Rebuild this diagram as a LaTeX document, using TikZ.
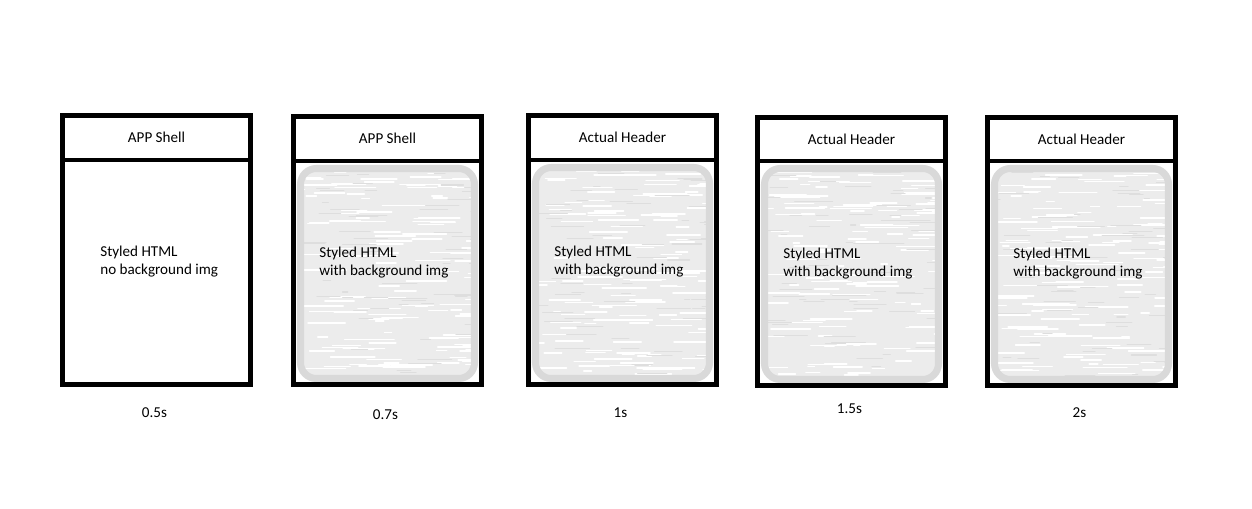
\documentclass[tikz,border=0pt]{standalone}
\usepackage{fontspec}
\setmainfont{Carlito}

\begin{document}
\begin{tikzpicture}[x=0.02cm,y=-0.02cm,
  frame/.style={line width=2.8pt},
  panel/.style={draw=gray!30,line width=4pt,rounded corners=9pt},
  caption/.style={font=\fontsize{8.6}{10.2}\selectfont,inner sep=0pt},
  streak/.style={line width=0.9pt,line cap=round}]
  \useasboundingbox (0,0) rectangle (1252,509);
  % one frame per loading stage
  \foreach \i/\xl/\yt/\hd/\bt/\tx/\ty/\hdr/\body/\tm/\my in {
      1/62.5/115.5/160/384.5/37.5/262/{APP Shell}/{no background img}/0.5s/413,
      2/293.5/116.5/161/384.5/25.5/263/{APP Shell}/{with background img}/0.7s/415,
      3/528.5/115.5/160/384.5/25.5/262/{Actual Header}/{with background img}/1s/413,
      4/757.5/117.5/161/385.5/25.5/264/{Actual Header}/{with background img}/1.5s/409,
      5/987.5/117.5/161/385.5/25.5/264/{Actual Header}/{with background img}/2s/413} {
    \ifnum\i>1
      % textured background image
      \begin{scope}
        \clip[rounded corners=9pt] ({\xl+7},{\hd+7.5}) rectangle ({\xl+181},{\bt-6});
        \fill[gray!15] ({\xl+7},{\hd+7.5}) rectangle ({\xl+181},{\bt-6});
        \pgfmathsetseed{\i*17}
        \foreach \k in {1,...,150}
          \draw[streak,white] ({\xl+rnd*185},{\hd+rnd*225}) -- ++({6+rnd*38},0);
        \foreach \k in {1,...,70}
          \draw[streak,gray!26,line width=0.6pt] ({\xl+rnd*185},{\hd+rnd*225}) -- ++({5+rnd*30},0);
      \end{scope}
      \draw[panel] ({\xl+7},{\hd+7.5}) rectangle ({\xl+181},{\bt-6});
    \fi
    \draw[frame] (\xl,\yt) rectangle ({\xl+188},\bt);
    \draw[frame] (\xl,\hd) -- ({\xl+188},\hd);
    \node[caption] (hdr\i) at ({\xl+94},{(\yt+\hd)/2}) {\hdr};
    \node[caption,anchor=west,align=left] (body\i) at ({\xl+\tx},\ty) {Styled HTML\\\body};
    \node[caption] (time\i) at ({\xl+92},\my) {\tm};
  }
\end{tikzpicture}
\end{document}
